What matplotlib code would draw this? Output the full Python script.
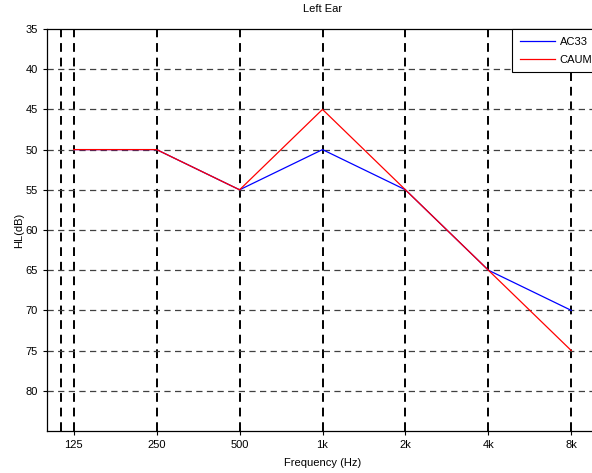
import matplotlib
matplotlib.use("Agg")
import matplotlib.pyplot as plt
from matplotlib.ticker import FixedLocator, NullLocator

freqs = [125, 250, 500, 1000, 2000, 4000, 8000]
tick_labels = ["125", "250", "500", "1k", "2k", "4k", "8k"]
ac33 = [50, 50, 55, 50, 55, 65, 70]
caum = [50, 50, 55, 45, 55, 65, 75]
extra_grid = [112]
y_ticks = [35, 40, 45, 50, 55, 60, 65, 70, 75, 80]

plt.rcParams['font.family'] = ['Liberation Sans', 'DejaVu Sans']

fig = plt.figure(figsize=(5.92, 4.73), dpi=100)
ax = fig.add_axes([47/592, 42/473, (598-47)/592, (431-29)/473])
ax.set_xscale('log')
ax.set_xlim(100, 10000)
ax.set_ylim(85, 35)

# grid lines
for f in extra_grid + freqs:
    ax.axvline(f, color='black', lw=1.4, ls=(0, (4.5, 3)), zorder=1)
for y in y_ticks[1:]:
    ax.axhline(y, color='#404040', lw=0.9, ls=(0, (5, 3.5)), zorder=1)

ax.plot(freqs, ac33, color='blue', lw=0.9, label='AC33', zorder=3)
ax.plot(freqs, caum, color='red', lw=0.9, label='CAUM', zorder=3)

ax.xaxis.set_major_locator(FixedLocator(freqs))
ax.xaxis.set_minor_locator(NullLocator())
ax.set_xticklabels(tick_labels)
ax.set_yticks(y_ticks)
ax.tick_params(labelsize=8, direction='out', length=3, width=0.8, top=False, right=False)
for s in ax.spines.values():
    s.set_linewidth(0.9)

ax.set_title('Left Ear', fontsize=8, pad=12)
ax.set_xlabel('Frequency (Hz)', fontsize=8, labelpad=6)
ax.set_ylabel('HL(dB)', fontsize=8, labelpad=1)

leg = ax.legend(loc='upper left', bbox_to_anchor=((512-47)/551, 1.0), borderaxespad=0,
                fontsize=8, fancybox=False, framealpha=1, edgecolor='black',
                handlelength=3.15, handletextpad=0.45, borderpad=0.7, labelspacing=0.7)
leg.get_frame().set_linewidth(0.8)

fig.savefig('out.png', dpi=100)
